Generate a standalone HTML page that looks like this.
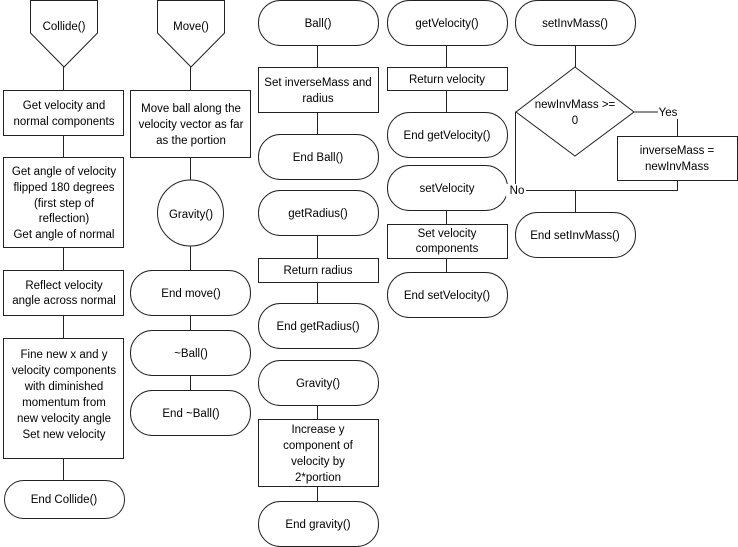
<!DOCTYPE html>
<html><head><style>
html,body{margin:0;padding:0;background:#fff;}
svg{display:block;}
text{font-family:"Liberation Sans",sans-serif;font-size:11.5px;fill:#000;text-anchor:middle;}
.s{fill:#fff;stroke:#222;stroke-width:1;}
.l{stroke:#222;stroke-width:1;fill:none;}
</style></head><body>
<svg width="738" height="547" viewBox="0 0 738 547">
<!-- column 1 -->
<line class="l" x1="63.5" y1="67" x2="63.5" y2="480"/>
<polygon class="s" points="30.5,0.5 97.5,0.5 97.5,33 64,67 30.5,33"/>
<text x="64" y="30">Collide()</text>
<rect class="s" x="3.5" y="90.5" width="120" height="45"/>
<text x="64" y="109">Get velocity and</text><text x="64" y="125">normal components</text>
<rect class="s" x="3.5" y="157.5" width="120" height="90"/>
<text x="64" y="175">Get angle of velocity</text><text x="64" y="191">flipped 180 degrees</text><text x="64" y="207">(first step of</text><text x="64" y="222">reflection)</text><text x="64" y="238">Get angle of normal</text>
<rect class="s" x="3.5" y="270.5" width="120" height="45"/>
<text x="64" y="289">Reflect velocity</text><text x="64" y="304">angle across normal</text>
<rect class="s" x="3.5" y="338.5" width="120" height="120"/>
<text x="64" y="358">Fine new x and y</text><text x="64" y="374">velocity components</text><text x="64" y="390">with diminished</text><text x="64" y="406">momentum from</text><text x="64" y="422">new velocity angle</text><text x="64" y="438">Set new velocity</text>
<rect class="s" x="4.5" y="480.5" width="120" height="38" rx="19"/>
<text x="64" y="503">End Collide()</text>
<!-- column 2 -->
<line class="l" x1="190.5" y1="67" x2="190.5" y2="270"/>
<line class="l" x1="190.5" y1="316" x2="190.5" y2="330"/>
<line class="l" x1="190.5" y1="375" x2="190.5" y2="390"/>
<polygon class="s" points="157.5,0.5 224.5,0.5 224.5,33 191,67 157.5,33"/>
<text x="191" y="30">Move()</text>
<rect class="s" x="130.5" y="90.5" width="120" height="67"/>
<text x="191" y="112">Move ball along the</text><text x="191" y="128">velocity vector as far</text><text x="191" y="144">as the portion</text>
<circle class="s" cx="190.5" cy="213" r="33"/>
<text x="191" y="218">Gravity()</text>
<rect class="s" x="130.5" y="270.5" width="120" height="45" rx="22"/>
<text x="191" y="297">End move()</text>
<rect class="s" x="130.5" y="330.5" width="120" height="45" rx="22"/>
<text x="191" y="357">~Ball()</text>
<rect class="s" x="130.5" y="390.5" width="120" height="45" rx="22"/>
<text x="191" y="417">End ~Ball()</text>
<!-- column 3 -->
<line class="l" x1="317.5" y1="45" x2="317.5" y2="135"/>
<line class="l" x1="317.5" y1="235" x2="317.5" y2="304"/>
<line class="l" x1="317.5" y1="405" x2="317.5" y2="502"/>
<rect class="s" x="258.5" y="0.5" width="120" height="45" rx="22"/>
<text x="318" y="27">Ball()</text>
<rect class="s" x="258.5" y="67.5" width="120" height="45"/>
<text x="318" y="86">Set inverseMass and</text><text x="318" y="102">radius</text>
<rect class="s" x="258.5" y="134.5" width="120" height="45" rx="22"/>
<text x="318" y="161">End Ball()</text>
<rect class="s" x="258.5" y="190.5" width="120" height="45" rx="22"/>
<text x="318" y="217">getRadius()</text>
<rect class="s" x="258.5" y="258.5" width="120" height="24"/>
<text x="318" y="274">Return radius</text>
<rect class="s" x="258.5" y="303.5" width="120" height="45" rx="22"/>
<text x="318" y="330">End getRadius()</text>
<rect class="s" x="258.5" y="360.5" width="120" height="45" rx="22"/>
<text x="318" y="387">Gravity()</text>
<rect class="s" x="258.5" y="419.5" width="120" height="67"/>
<text x="318" y="433">Increase y</text><text x="318" y="449">component of</text><text x="318" y="465">velocity by</text><text x="318" y="481">2*portion</text>
<rect class="s" x="258.5" y="501.5" width="120" height="45" rx="22"/>
<text x="318" y="528">End gravity()</text>
<!-- column 4 -->
<line class="l" x1="446.5" y1="45" x2="446.5" y2="112"/>
<line class="l" x1="446.5" y1="210" x2="446.5" y2="272"/>
<rect class="s" x="387.5" y="0.5" width="120" height="45" rx="22"/>
<text x="447" y="27">getVelocity()</text>
<rect class="s" x="387.5" y="67.5" width="120" height="23"/>
<text x="447" y="83">Return velocity</text>
<rect class="s" x="387.5" y="112.5" width="120" height="45" rx="22"/>
<text x="447" y="139">End getVelocity()</text>
<rect class="s" x="387.5" y="165.5" width="120" height="45" rx="22"/>
<text x="447" y="192">setVelocity</text>
<rect class="s" x="387.5" y="224.5" width="120" height="34"/>
<text x="447" y="237">Set velocity</text><text x="447" y="252">components</text>
<rect class="s" x="387.5" y="272.5" width="120" height="45" rx="22"/>
<text x="447" y="299">End setVelocity()</text>
<!-- column 5 -->
<line class="l" x1="575.5" y1="45" x2="575.5" y2="67"/>
<polyline class="l" points="634,112 677.5,112 677.5,136"/>
<polyline class="l" points="516,112 515.5,112 515.5,190.5 677.5,190.5 677.5,180"/>
<line class="l" x1="575.5" y1="190" x2="575.5" y2="213"/>
<rect class="s" x="515.5" y="0.5" width="120" height="45" rx="22"/>
<text x="575" y="27">setInvMass()</text>
<polygon class="s" points="575,67 634,112 575,156 516,112"/>
<text x="575" y="108">newInvMass &gt;=</text><text x="575" y="124">0</text>
<rect fill="#fff" x="658" y="106" width="22" height="13"/>
<text x="668" y="116">Yes</text>
<rect fill="#fff" x="506" y="184" width="20" height="13"/>
<text x="517" y="194">No</text>
<rect class="s" x="617.5" y="136.5" width="120" height="44"/>
<text x="677" y="154">inverseMass =</text><text x="677" y="170">newInvMass</text>
<rect class="s" x="515.5" y="212.5" width="120" height="45" rx="22"/>
<text x="575" y="239">End setInvMass()</text>
</svg>
</body></html>
